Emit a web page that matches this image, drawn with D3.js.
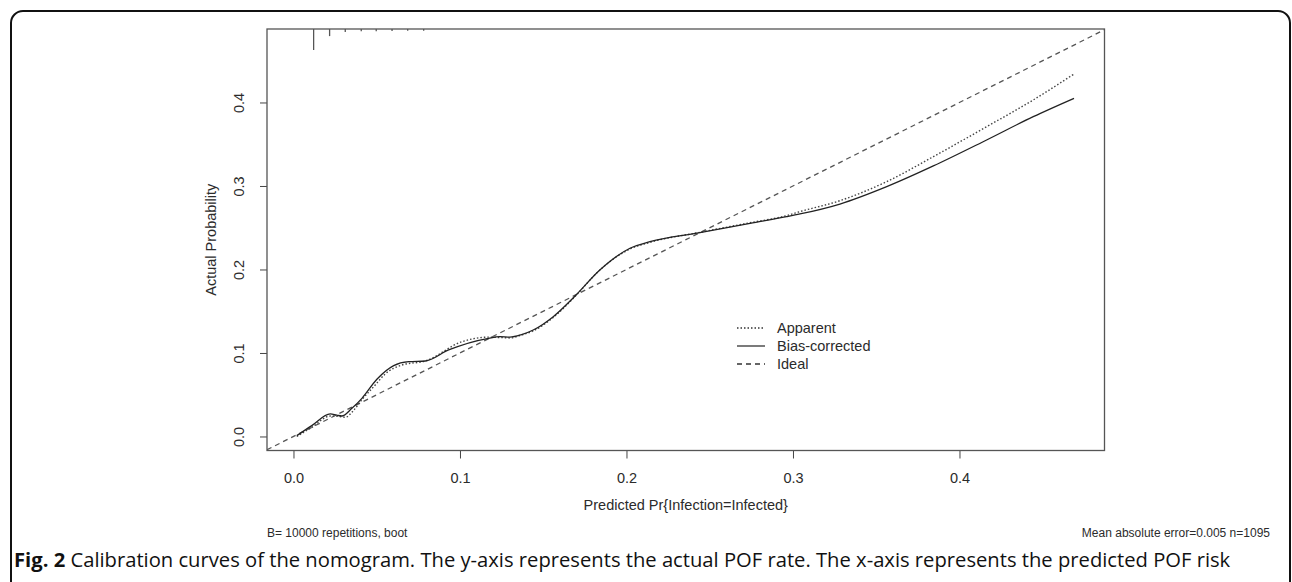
<!DOCTYPE html>
<html>
<head>
<meta charset="utf-8">
<script src="https://cdn.jsdelivr.net/npm/d3@7"></script>
<style>
  body { margin: 0; background: #fff; }
  svg { display: block; }
  .axis text { font-family: "Liberation Sans", Arial, sans-serif; font-size: 14.5px; fill: #2b2b2b; }
  .axis path, .axis line { stroke: #444; }
</style>
</head>
<body>
<svg id="chart" width="1292" height="582"></svg>
<script>
// predicted probability (x) for both calibration curves
var appX = [0.002, 0.011, 0.0221, 0.027, 0.0311, 0.036, 0.0411, 0.0491, 0.0551, 0.0652, 0.0792, 0.1012, 0.1172, 0.124, 0.130, 0.137, 0.144, 0.156, 0.169, 0.184, 0.2021, 0.2141, 0.2441, 0.2742, 0.2962, 0.3042, 0.3282, 0.3563, 0.3843, 0.4163, 0.4443, 0.4688];
var appY = [0.0, 0.011, 0.0245, 0.024, 0.023, 0.031, 0.044, 0.0617, 0.0749, 0.0856, 0.0904, 0.1135, 0.119, 0.1185, 0.118, 0.1215, 0.1265, 0.1425, 0.1675, 0.1994, 0.2245, 0.2325, 0.2445, 0.256, 0.2645, 0.2693, 0.2824, 0.3052, 0.3351, 0.371, 0.403, 0.4341];

var biasX = [0.002, 0.011, 0.0221, 0.026, 0.029, 0.0351, 0.0411, 0.0501, 0.0602, 0.0692, 0.0792, 0.0932, 0.1172, 0.124, 0.130, 0.137, 0.144, 0.156, 0.169, 0.184, 0.2021, 0.2141, 0.2441, 0.2742, 0.2962, 0.3042, 0.3282, 0.3563, 0.3843, 0.4163, 0.4443, 0.4688];
var biasY = [0.001, 0.013, 0.027, 0.0255, 0.0245, 0.0337, 0.0457, 0.0685, 0.0848, 0.0896, 0.0904, 0.1036, 0.1176, 0.1195, 0.119, 0.122, 0.1275, 0.1435, 0.168, 0.1994, 0.2254, 0.2333, 0.2441, 0.2553, 0.2633, 0.2665, 0.2784, 0.2992, 0.324, 0.3551, 0.383, 0.405];

// spike histogram of predicted values along the top
var rugX = [0.0121, 0.0217, 0.0311, 0.0407, 0.0497, 0.0592, 0.0686, 0.0782];
var rugN = [620, 210, 85, 70, 65, 60, 55, 55];

var xTicks = [0, 0.1, 0.2, 0.3, 0.4];
var yTicks = [0, 0.1, 0.2, 0.3, 0.4];

var legendNames = ["Apparent", "Bias-corrected", "Ideal"];
var legendDash = ["1.5,2", null, "5,4"];

var svg = d3.select("#chart");

var pLeft = 267, pRight = 1104.5, pTop = 29, pBottom = 450.5;

var x = d3.scaleLinear().domain([-0.0159, 0.4871]).range([pLeft, pRight]);
var y = d3.scaleLinear().domain([-0.0168, 0.488]).range([pBottom, pTop]);
var rugLen = d3.scaleLinear().domain([0, d3.max(rugN)]).range([0, 21]);

// outer panel
svg.append("rect")
    .attr("x", 11).attr("y", 11)
    .attr("width", 1279).attr("height", 600)
    .attr("rx", 12)
    .attr("fill", "none")
    .attr("stroke", "#111")
    .attr("stroke-width", 2);

// axes
svg.append("g")
    .attr("class", "x axis")
    .attr("transform", "translate(0," + pBottom + ")")
    .call(d3.axisBottom(x).tickValues(xTicks).tickFormat(d3.format(".1f")).tickSize(8).tickPadding(14).tickSizeOuter(0))
    .call(function(g) { g.select(".domain").remove(); });

var yAxis = svg.append("g")
    .attr("class", "y axis")
    .attr("transform", "translate(" + pLeft + ",0)")
    .call(d3.axisLeft(y).tickValues(yTicks).tickFormat(d3.format(".1f")).tickSize(7).tickSizeOuter(0))
    .call(function(g) { g.select(".domain").remove(); });

yAxis.selectAll(".tick text")
    .attr("transform", "rotate(-90)")
    .attr("x", 0)
    .attr("y", -23)
    .attr("dy", 0)
    .style("text-anchor", "middle");

// plot frame
svg.append("rect")
    .attr("x", pLeft).attr("y", pTop)
    .attr("width", pRight - pLeft).attr("height", pBottom - pTop)
    .attr("fill", "none")
    .attr("stroke", "#555")
    .attr("stroke-width", 1.3);

// axis titles
svg.append("text")
    .attr("x", (pLeft + pRight) / 2)
    .attr("y", 510)
    .attr("text-anchor", "middle")
    .style("font-family", "Liberation Sans, Arial, sans-serif")
    .style("font-size", "14.5px")
    .style("fill", "#2b2b2b")
    .text("Predicted Pr{Infection=Infected}");

svg.append("text")
    .attr("transform", "translate(216," + (pTop + pBottom) / 2 + ") rotate(-90)")
    .attr("text-anchor", "middle")
    .style("font-family", "Liberation Sans, Arial, sans-serif")
    .style("font-size", "14.5px")
    .style("fill", "#2b2b2b")
    .text("Actual Probability");

// rug spikes
svg.selectAll(".rug")
    .data(rugX)
    .enter()
  .append("line")
    .attr("class", "rug")
    .attr("x1", function(d) { return x(d); })
    .attr("x2", function(d) { return x(d); })
    .attr("y1", pTop)
    .attr("y2", function(d, i) { return pTop + rugLen(rugN[i]); })
    .attr("stroke", "#555")
    .attr("stroke-width", 1.3);

var plot = svg.append("g");

plot.append("clipPath").attr("id", "clip")
  .append("rect")
    .attr("x", pLeft).attr("y", pTop)
    .attr("width", pRight - pLeft).attr("height", pBottom - pTop);

// ideal line y = x
var ideal = x.domain();
plot.append("line")
    .attr("clip-path", "url(#clip)")
    .attr("x1", x(ideal[0])).attr("y1", y(ideal[0]))
    .attr("x2", x(ideal[1])).attr("y2", y(ideal[1]))
    .attr("stroke", "#555")
    .attr("stroke-width", 1.3)
    .attr("stroke-dasharray", legendDash[2]);

var line = d3.line()
    .x(function(d) { return x(d[0]); })
    .y(function(d) { return y(d[1]); })
    .curve(d3.curveMonotoneX);

plot.append("path")
    .datum(d3.zip(appX, appY))
    .attr("d", line)
    .attr("fill", "none")
    .attr("stroke", "#444")
    .attr("stroke-width", 1.4)
    .attr("stroke-dasharray", legendDash[0]);

plot.append("path")
    .datum(d3.zip(biasX, biasY))
    .attr("d", line)
    .attr("fill", "none")
    .attr("stroke", "#222")
    .attr("stroke-width", 1.3);

// legend
var legend = svg.append("g")
    .attr("transform", "translate(737,328)");

var rows = legend.selectAll(".row")
    .data(legendNames)
    .enter()
  .append("g")
    .attr("class", "row")
    .attr("transform", function(d, i) { return "translate(0," + i * 18 + ")"; });

rows.append("line")
    .attr("x1", 0).attr("x2", 28)
    .attr("y1", 0).attr("y2", 0)
    .attr("stroke", "#333")
    .attr("stroke-width", 1.3)
    .attr("stroke-dasharray", function(d, i) { return legendDash[i]; });

rows.append("text")
    .attr("x", 40)
    .attr("y", 5)
    .style("font-family", "Liberation Sans, Arial, sans-serif")
    .style("font-size", "14.5px")
    .style("fill", "#2b2b2b")
    .text(function(d) { return d; });

// sub titles
svg.append("text")
    .attr("x", pLeft)
    .attr("y", 537)
    .style("font-family", "Liberation Sans, Arial, sans-serif")
    .style("font-size", "12px")
    .style("fill", "#2b2b2b")
    .text("B= 10000 repetitions, boot");

svg.append("text")
    .attr("x", 1270)
    .attr("y", 537)
    .attr("text-anchor", "end")
    .style("font-family", "Liberation Sans, Arial, sans-serif")
    .style("font-size", "12px")
    .style("fill", "#2b2b2b")
    .text("Mean absolute error=0.005 n=1095");

// figure caption
var cap = svg.append("text")
    .attr("x", 14)
    .attr("y", 567)
    .style("font-family", "Open Sans, Noto Sans, sans-serif")
    .style("font-size", "20.2px")
    .style("fill", "#111");

cap.append("tspan").style("font-weight", "bold").text("Fig. 2");
cap.append("tspan").text(" Calibration curves of the nomogram. The y-axis represents the actual POF rate. The x-axis represents the predicted POF risk");
</script>
</body>
</html>
